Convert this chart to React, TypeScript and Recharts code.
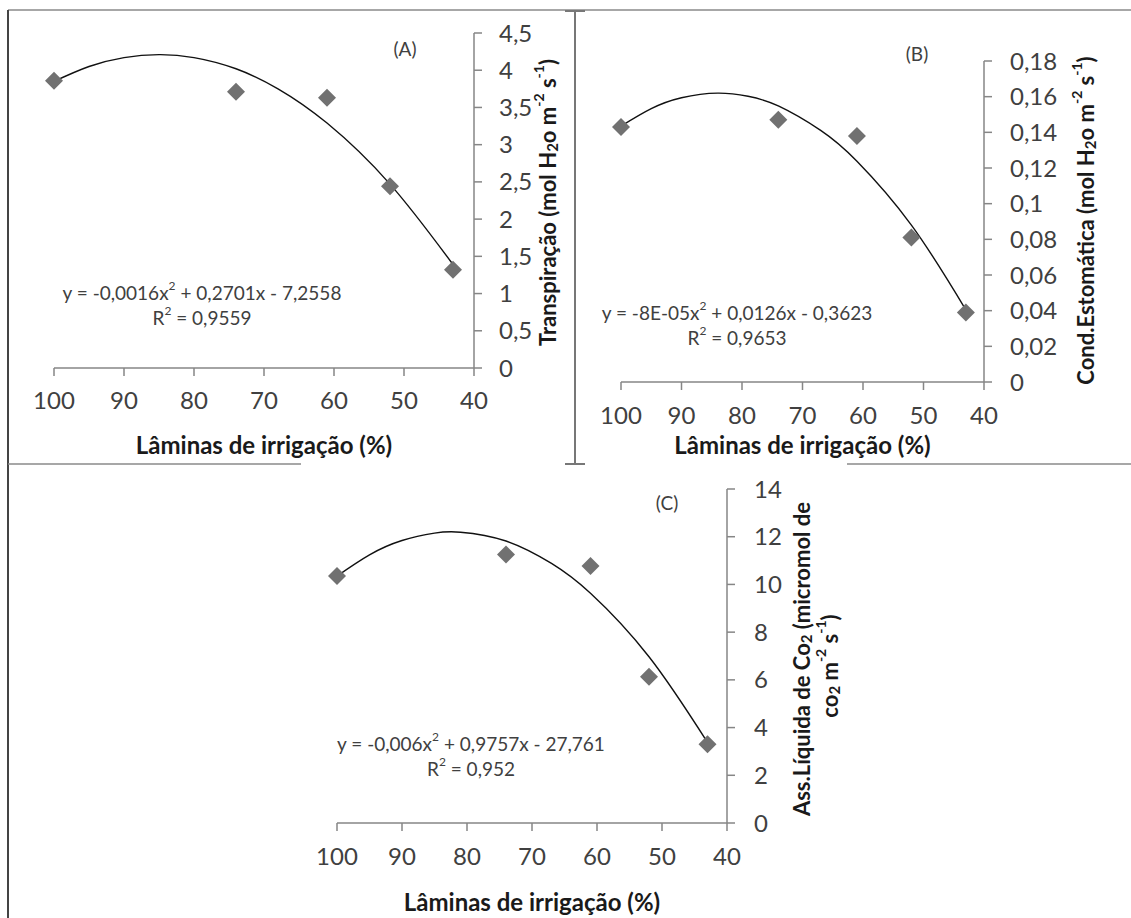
import React from 'react';
import { ComposedChart, Line, Scatter, XAxis, YAxis } from 'recharts';

// irrigation depths (% of ETc) and measured means
const laminas = [100, 74, 61, 52, 43];
const transpiracao = [3.86, 3.71, 3.63, 2.44, 1.32];
const condEstomatica = [0.143, 0.147, 0.138, 0.081, 0.039];
const assLiquida = [10.35, 11.25, 10.77, 6.13, 3.3];

// polynomial trend lines traced along the x axis
const trendXA = [100, 95, 90, 85, 80, 74, 68, 61, 52, 43];
const trendA = [3.85, 4.05, 4.17, 4.21, 4.17, 4.02, 3.75, 3.29, 2.47, 1.39];
const trendXB = [100, 95, 90, 84, 79, 74, 67, 61, 52, 43];
const trendB = [0.1435, 0.1533, 0.1594, 0.162, 0.1602, 0.1548, 0.1411, 0.1238, 0.088, 0.0405];
const trendXC = [100, 95, 90, 85, 81, 74, 67, 61, 52, 43];
const trendC = [10.35, 11.24, 11.84, 12.15, 12.19, 11.82, 10.88, 9.63, 6.97, 3.38];

const xTicks = [100, 90, 80, 70, 60, 50, 40];
const ticksA = [0, 0.5, 1, 1.5, 2, 2.5, 3, 3.5, 4, 4.5];
const ticksB = [0, 0.02, 0.04, 0.06, 0.08, 0.1, 0.12, 0.14, 0.16, 0.18];
const ticksC = [0, 2, 4, 6, 8, 10, 12, 14];

const toPoints = (xs: number[], ys: number[]) => xs.map((x, i) => ({ x, y: ys[i] }));

const FONT = "Lato, 'DejaVu Sans', sans-serif";
const AXIS = '#868686';
const TEXT = '#404040';

const titleStyle = { fontFamily: FONT, fontWeight: 700, fontSize: 24, fill: '#1a1a1a' };
const ylabStyle = { fontFamily: FONT, fontWeight: 700, fontSize: 22, fill: '#1a1a1a' };

const Diamond = (props: any) => {
  const { cx, cy } = props;
  const r = 9;
  return (
    <polygon
      points={`${cx},${cy - r} ${cx + r},${cy} ${cx},${cy + r} ${cx - r},${cy}`}
      fill="#717171"
    />
  );
};

// "(mol H2o m-2 s-1)" with sub/superscripts
const UnitMol = () => (
  <>
    <tspan>(mol H</tspan>
    <tspan dy={5} fontSize={15}>2</tspan>
    <tspan dy={-5}>o m</tspan>
    <tspan dy={-9} fontSize={14}>-2</tspan>
    <tspan dy={9}> s</tspan>
    <tspan dy={-9} fontSize={14}>-1</tspan>
    <tspan dy={9}>)</tspan>
  </>
);

const xTitle = (offset: number) => (props: any) => {
  const { x, y, width } = props.viewBox;
  return (
    <text x={x + width / 2} y={y + offset} textAnchor="middle" dominantBaseline="central" style={titleStyle}>
      Lâminas de irrigação (%)
    </text>
  );
};

const rotated = (cx: number, cy: number, content: React.ReactNode, key?: string) => (
  <text
    key={key}
    x={cx}
    y={cy}
    transform={`rotate(-90, ${cx}, ${cy})`}
    textAnchor="middle"
    dominantBaseline="central"
    style={ylabStyle}
  >
    {content}
  </text>
);

const yTitleA = (props: any) => {
  const { x, y, height } = props.viewBox;
  return rotated(x + 73, y + height / 2 + 2, <><tspan>Transpiração  </tspan><UnitMol /></>);
};

const yTitleB = (props: any) => {
  const { x, y, height } = props.viewBox;
  return rotated(x + 101, y + height / 2 - 1, <><tspan>Cond.Estomática  </tspan><UnitMol /></>);
};

const yTitleC = (props: any) => {
  const { x, y, height } = props.viewBox;
  const cy = y + height / 2;
  return (
    <g>
      {rotated(
        x + 74,
        cy + 3,
        <>
          <tspan>Ass.Líquida de Co</tspan>
          <tspan dy={5} fontSize={15}>2</tspan>
          <tspan dy={-5}>  (micromol de</tspan>
        </>,
        'l1'
      )}
      {rotated(
        x + 102,
        cy + 10,
        <>
          <tspan>co</tspan>
          <tspan dy={5} fontSize={15}>2</tspan>
          <tspan dy={-5}> m</tspan>
          <tspan dy={-9} fontSize={14}>-2</tspan>
          <tspan dy={9}> s</tspan>
          <tspan dy={-9} fontSize={14}>-1</tspan>
          <tspan dy={9}>)</tspan>
        </>,
        'l2'
      )}
    </g>
  );
};

const comma = (v: number) => String(v).replace('.', ',');

type PanelProps = {
  left: number;
  top: number;
  width: number;
  height: number;
  marginTop: number;
  marginLeft: number;
  yAxisWidth: number;
  xAxisHeight: number;
  yDomain: [number, number];
  yTicks: number[];
  points: { x: number; y: number }[];
  trend: { x: number; y: number }[];
  xTickMargin: number;
  yTickMargin: number;
  xTitleOffset: number;
  yLabel: (props: any) => React.ReactElement;
};

const Panel = (p: PanelProps) => (
  <div style={{ position: 'absolute', left: p.left, top: p.top }}>
    <ComposedChart
      width={p.width}
      height={p.height}
      margin={{ top: p.marginTop, left: p.marginLeft, right: 0, bottom: 0 }}
    >
      <XAxis
        type="number"
        dataKey="x"
        domain={[40, 100]}
        ticks={xTicks}
        interval={0}
        reversed
        height={p.xAxisHeight}
        tickSize={8}
        tickMargin={p.xTickMargin}
        axisLine={{ stroke: AXIS, strokeWidth: 1.5 }}
        tickLine={{ stroke: AXIS, strokeWidth: 1.5 }}
        tick={{ fill: TEXT, fontSize: 24, fontFamily: FONT }}
        label={xTitle(p.xTitleOffset)}
      />
      <YAxis
        type="number"
        dataKey="y"
        orientation="right"
        domain={p.yDomain}
        ticks={p.yTicks}
        interval={0}
        width={p.yAxisWidth}
        tickSize={8}
        tickMargin={p.yTickMargin}
        tickFormatter={comma}
        axisLine={{ stroke: AXIS, strokeWidth: 1.5 }}
        tickLine={{ stroke: AXIS, strokeWidth: 1.5 }}
        tick={{ fill: TEXT, fontSize: 24, fontFamily: FONT, textAnchor: 'start' }}
        label={p.yLabel}
      />
      <Scatter data={p.points} dataKey="y" shape={Diamond} isAnimationActive={false} />
      <Line
        data={p.trend}
        dataKey="y"
        type="natural"
        stroke="#111"
        strokeWidth={1.4}
        dot={false}
        activeDot={false}
        isAnimationActive={false}
      />
    </ComposedChart>
  </div>
);

const eqStyle = { fontFamily: FONT, fontSize: 19, fill: TEXT };

const Equation = ({ cx, cy, a, rest, r2 }: { cx: number; cy: number; a: string; rest: string; r2: string }) => (
  <g>
    <text x={cx} y={cy} textAnchor="middle" dominantBaseline="central" style={eqStyle}>
      <tspan>{a}</tspan>
      <tspan dy={-7} fontSize={12}>2</tspan>
      <tspan dy={7}>{rest}</tspan>
    </text>
    <text x={cx} y={cy + 25} textAnchor="middle" dominantBaseline="central" style={eqStyle}>
      <tspan>R</tspan>
      <tspan dy={-7} fontSize={12}>2</tspan>
      <tspan dy={7}>{r2}</tspan>
    </text>
  </g>
);

const frame = { stroke: '#8a8a8a', strokeWidth: 1.5 };
const tagStyle = { fontFamily: FONT, fontSize: 19, fill: TEXT };

export default function App() {
  return (
    <div style={{ position: 'absolute', left: 0, top: 0, width: 1131, height: 918, background: '#fff' }}>
      <Panel
        left={0}
        top={0}
        width={575}
        height={464}
        marginTop={33}
        marginLeft={54}
        yAxisWidth={101}
        xAxisHeight={96}
        yDomain={[0, 4.5]}
        yTicks={ticksA}
        points={toPoints(laminas, transpiracao)}
        trend={toPoints(trendXA, trendA)}
        xTickMargin={16}
        yTickMargin={17}
        xTitleOffset={76}
        yLabel={yTitleA}
      />
      <Panel
        left={575}
        top={0}
        width={556}
        height={464}
        marginTop={61}
        marginLeft={46}
        yAxisWidth={147}
        xAxisHeight={82}
        yDomain={[0, 0.18]}
        yTicks={ticksB}
        points={toPoints(laminas, condEstomatica)}
        trend={toPoints(trendXB, trendB)}
        xTickMargin={17}
        yTickMargin={18}
        xTitleOffset={62}
        yLabel={yTitleB}
      />
      <Panel
        left={290}
        top={466}
        width={560}
        height={452}
        marginTop={23}
        marginLeft={47}
        yAxisWidth={123}
        xAxisHeight={95}
        yDomain={[0, 14]}
        yTicks={ticksC}
        points={toPoints(laminas, assLiquida)}
        trend={toPoints(trendXC, trendC)}
        xTickMargin={17}
        yTickMargin={19}
        xTitleOffset={78}
        yLabel={yTitleC}
      />
      <svg
        width={1131}
        height={918}
        style={{ position: 'absolute', left: 0, top: 0, pointerEvents: 'none' }}
      >
        <line x1={8} y1={10} x2={1131} y2={10} {...frame} />
        <line x1={8} y1={10} x2={8} y2={918} stroke="#444" strokeWidth={2} />
        <line x1={8} y1={464} x2={301} y2={464} {...frame} />
        <line x1={575} y1={10} x2={575} y2={464} stroke="#777" strokeWidth={2} />
        <line x1={565} y1={11} x2={585} y2={11} stroke="#777" strokeWidth={2} />
        <line x1={565} y1={464} x2={585} y2={464} stroke="#777" strokeWidth={2} />
        <line x1={847} y1={464} x2={1131} y2={464} {...frame} />

        <text x={405} y={48} textAnchor="middle" dominantBaseline="central" style={tagStyle}>(A)</text>
        <text x={917} y={53} textAnchor="middle" dominantBaseline="central" style={tagStyle}>(B)</text>
        <text x={667} y={502} textAnchor="middle" dominantBaseline="central" style={tagStyle}>(C)</text>

        <Equation cx={202} cy={292} a="y = -0,0016x" rest=" + 0,2701x - 7,2558" r2=" = 0,9559" />
        <Equation cx={737} cy={312} a="y = -8E-05x" rest=" + 0,0126x - 0,3623" r2=" = 0,9653" />
        <Equation cx={471} cy={743} a="y = -0,006x" rest=" + 0,9757x - 27,761" r2=" = 0,952" />
      </svg>
    </div>
  );
}
